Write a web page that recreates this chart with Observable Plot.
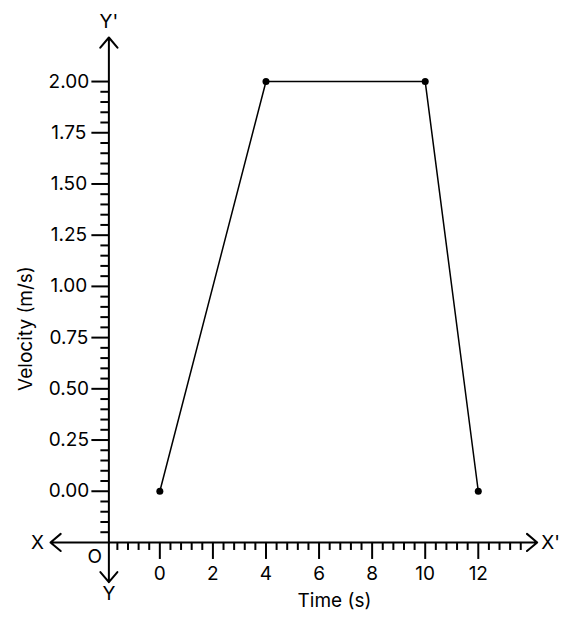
<!DOCTYPE html>
<html><head><meta charset="utf-8">
<script src="https://cdn.jsdelivr.net/npm/d3@7"></script>
<script src="https://cdn.jsdelivr.net/npm/@observablehq/plot@0.6"></script>
<style>
body{margin:0;background:#fff;}
#chart svg{display:block;}
</style>
</head><body>
<div id="chart"></div>
<script>
// Data
const time = [0, 4, 10, 12];
const velocity = [0, 2, 2, 0];
// Tick labels
const xTicks = [0, 2, 4, 6, 8, 10, 12];
const yTicks = [0, 0.25, 0.5, 0.75, 1.0, 1.25, 1.5, 1.75, 2.0];
// Axis crossing (origin O) in data units
const originX = -1.92;
const originY = -0.25;
// Axis extents (arrow tips)
const xMin = -4.12, xMax = 14.22;
const yMin = -0.444, yMax = 2.215;
// Minor ticks
const xMinor = d3.range(-4, 35).map(i => +(i * 0.4).toFixed(2)).filter(v => Math.abs(v / 2 - Math.round(v / 2)) > 1e-6);
const yMinor = d3.range(-4, 40).map(i => +(i * 0.05).toFixed(2)).filter(v => Math.abs(v / 0.25 - Math.round(v / 0.25)) > 1e-6);

const points = time.map((t, i) => ({t, v: velocity[i]}));
const font = "Inter, 'Noto Sans', sans-serif";

const plot = Plot.plot({
  width: 562,
  height: 618,
  marginLeft: 50,
  marginRight: 25.3,
  marginTop: 37,
  marginBottom: 36.3,
  x: {domain: [xMin, xMax], axis: null},
  y: {domain: [yMin, yMax], axis: null},
  style: {fontFamily: font, fontSize: "19px", color: "#000", background: "#fff", overflow: "visible"},
  marks: [
    // axes with arrowheads
    Plot.arrow([{x1: originX, x2: xMin}, {x1: originX, x2: xMax}], {x1: "x1", x2: "x2", y1: originY, y2: originY, stroke: "#000", strokeWidth: 2, headLength: 10, headAngle: 80}),
    Plot.arrow([{y1: originY, y2: yMin}, {y1: originY, y2: yMax}], {y1: "y1", y2: "y2", x1: originX, x2: originX, stroke: "#000", strokeWidth: 2, headLength: 10, headAngle: 80}),
    // x ticks
    Plot.ruleX(xMinor, {x: d => d, y1: originY, y2: originY, insetBottom: -8, stroke: "#000", strokeWidth: 2}),
    Plot.ruleX(xTicks, {x: d => d, y1: originY, y2: originY, insetBottom: -17, stroke: "#000", strokeWidth: 2}),
    Plot.text(xTicks, {x: d => d, y: originY, dy: 31, text: d => String(d), fill: "#000"}),
    // y ticks
    Plot.ruleY(yMinor, {y: d => d, x1: originX, x2: originX, insetLeft: -8, stroke: "#000", strokeWidth: 2}),
    Plot.ruleY(yTicks, {y: d => d, x1: originX, x2: originX, insetLeft: -17, stroke: "#000", strokeWidth: 2}),
    Plot.text(yTicks, {y: d => d, x: originX, dx: -40, text: d => d.toFixed(2), fill: "#000"}),
    // axis letters
    Plot.text(["X"], {x: xMin, y: originY, dx: -13, text: d => d, fill: "#000"}),
    Plot.text(["X'"], {x: xMax, y: originY, dx: 4, textAnchor: "start", text: d => d, fill: "#000"}),
    Plot.text(["Y'"], {x: originX, y: yMax, dy: -16, text: d => d, fill: "#000"}),
    Plot.text(["Y"], {x: originX, y: yMin, dy: 12, text: d => d, fill: "#000"}),
    Plot.text(["O"], {x: originX, y: originY, dx: -14, dy: 14, text: d => d, fill: "#000"}),
    // axis titles
    Plot.text(["Time (s)"], {frameAnchor: "bottom", textAnchor: "middle", lineAnchor: "middle", dx: 40.6, dy: 18.3, text: d => d, fill: "#000"}),
    Plot.text(["Velocity (m/s)"], {frameAnchor: "left", textAnchor: "middle", lineAnchor: "middle", dx: -25, dy: 18.7, rotate: -90, text: d => d, fill: "#000"}),
    // data
    Plot.line(points, {x: "t", y: "v", stroke: "#000", strokeWidth: 1.5}),
    Plot.dot(points, {x: "t", y: "v", r: 3.5, fill: "#000"})
  ]
});
document.getElementById("chart").appendChild(plot);
</script>
</body></html>
